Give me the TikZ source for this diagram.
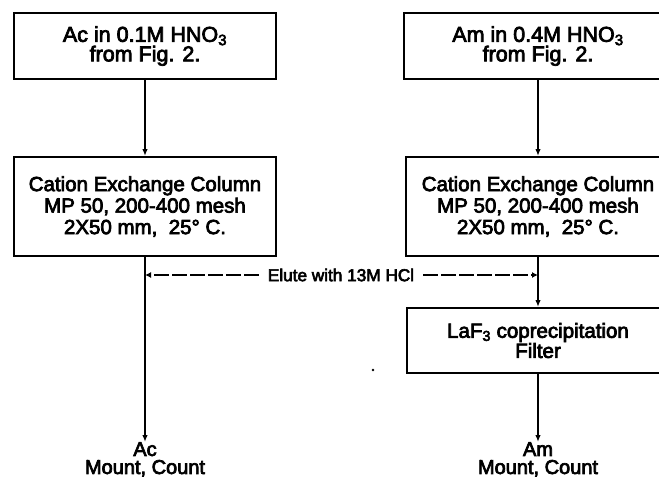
\documentclass[tikz,border=0pt]{standalone}
\usepackage{fontspec}
\setmainfont{Liberation Sans}[RawFeature={embolden=3.5}]
\usetikzlibrary{arrows.meta}
\begin{document}
\begin{tikzpicture}[x=1pt,y=-1pt,
  box/.style={draw,line width=2pt,rectangle,align=center,inner sep=0pt},
  flow/.style={line width=1.9pt,-{Latex[length=7pt,width=5.5pt]}},
  elute/.style={line width=1.5pt,dash pattern=on 15pt off 3pt,-{Latex[length=6pt,width=6pt]}},
  topfont/.style={font=\fontsize{21.5}{19.5}\selectfont},
  colfont/.style={font=\fontsize{20.5}{21.5}\selectfont},
  endfont/.style={font=\fontsize{20}{18}\selectfont},
  smallfont/.style={font=\fontsize{17.2}{19}\selectfont}
]
\useasboundingbox (0,0) rectangle (659,479);
\clip (0,0) rectangle (659,479);

% left column
\node[box,topfont,minimum width=262pt,minimum height=66pt] (topL) at (145,46)
  {Ac in 0.1M HNO\textsubscript{3}\\from Fig. 2.};
\node[box,colfont,minimum width=262pt,minimum height=99pt] (colL) at (145,206.5)
  {Cation Exchange Column\\MP 50, 200-400 mesh\\2X50 mm,\ \ 25° C.};
\node[endfont,align=center,inner sep=0pt,anchor=north] (endL) at (145,442)
  {Ac\\Mount, Count};

% right column
\node[box,topfont,minimum width=268pt,minimum height=66pt] (topR) at (538,46)
  {Am in 0.4M HNO\textsubscript{3}\\from Fig. 2.};
\node[box,colfont,minimum width=264pt,minimum height=99pt] (colR) at (538,206.5)
  {Cation Exchange Column\\MP 50, 200-400 mesh\\2X50 mm,\ \ 25° C.};
\node[box,font=\fontsize{20.5}{18}\selectfont,minimum width=262pt,minimum height=65pt] (laf) at (538,340.5)
  {LaF\textsubscript{3} coprecipitation\\Filter};
\node[endfont,align=center,inner sep=0pt,anchor=north] (endR) at (538,442)
  {Am\\Mount, Count};

% elution label
\node[smallfont,inner xsep=9pt,inner ysep=2pt] (elu) at (341,275) {Elute with 13M HCl};

% connectors
\draw[flow] (topL.south) -- (colL.north);
\draw[flow] (colL.south) -- (endL.north);
\draw[flow] (topR.south) -- (colR.north);
\draw[flow] (colR.south) -- (laf.north);
\draw[flow] (laf.south) -- (endR.north);
\draw[elute] (elu.west) -- (elu.west -| colL.south);
\draw[elute] (elu.east) -- (elu.east -| colR.south);

% stray speck
\fill (373,370) circle (1.3pt);
\end{tikzpicture}
\end{document}
